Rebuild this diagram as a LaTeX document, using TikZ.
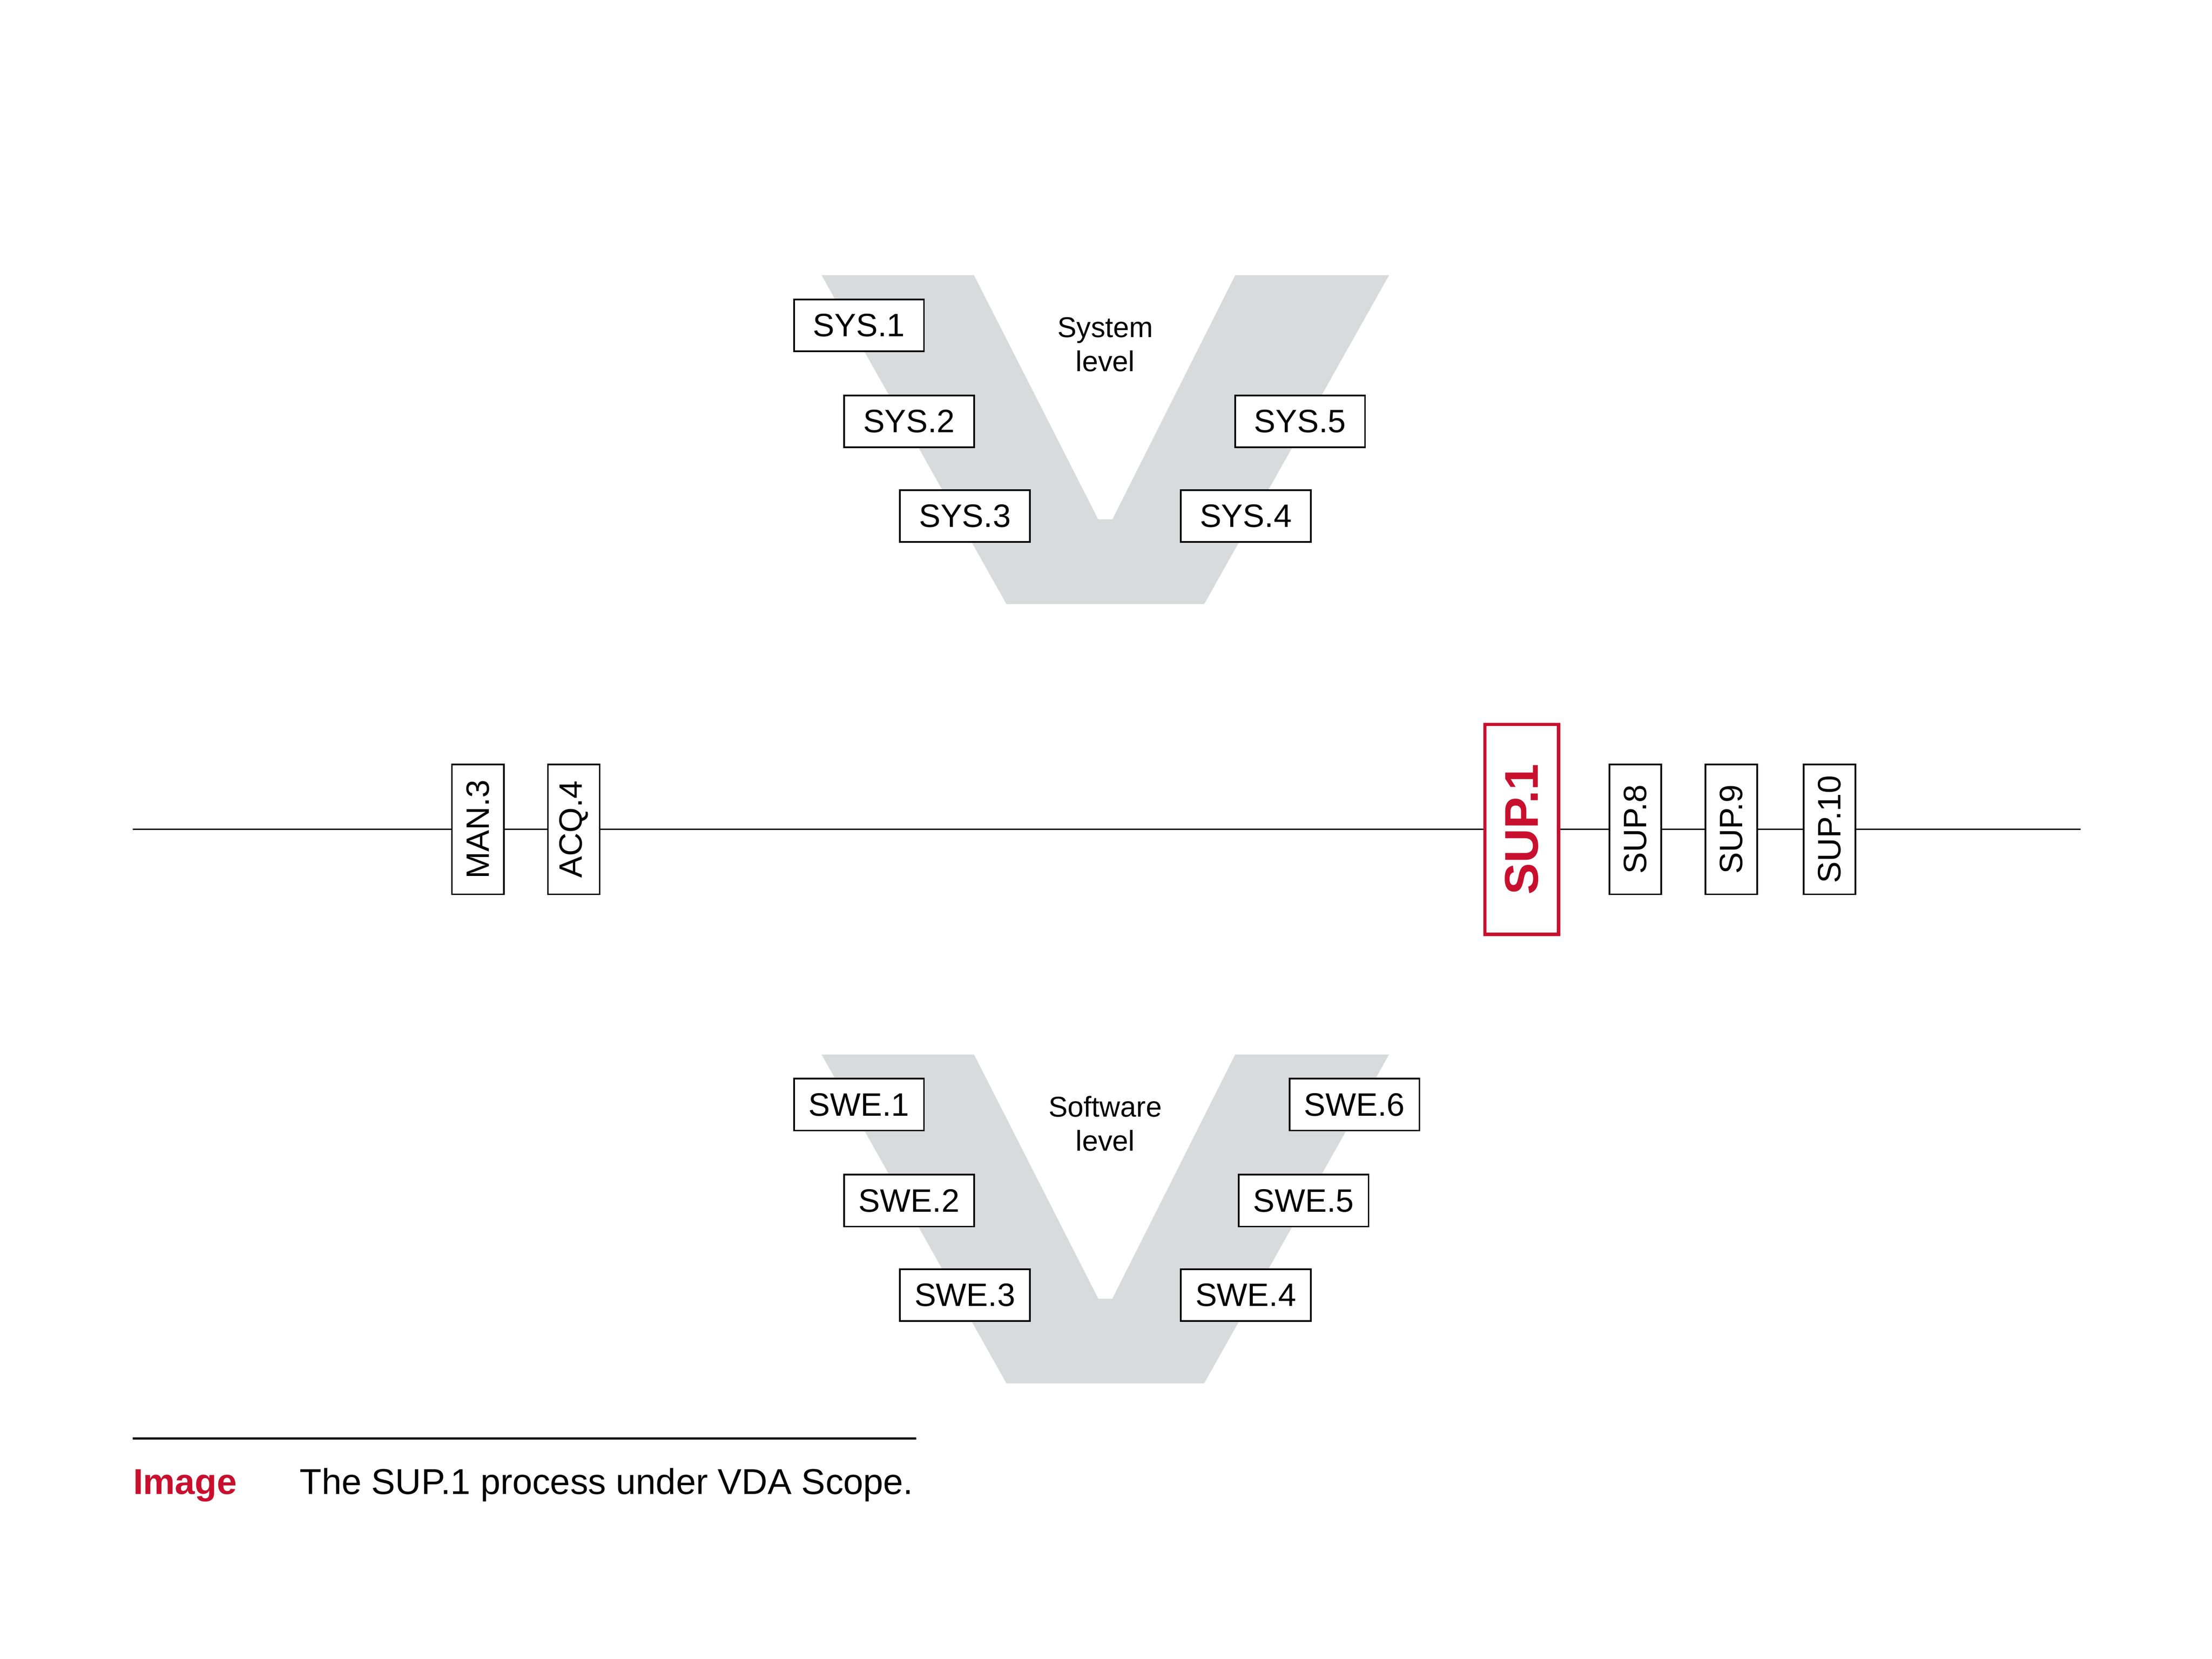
\documentclass[tikz,border=0pt]{standalone}
\usepackage{fontspec}
\setmainfont{Liberation Sans}
\usepackage{xcolor}
\usepackage{tikz}
\definecolor{vdared}{RGB}{200,16,46}
\definecolor{vgray}{RGB}{217,218,219}
\tikzset{
  procbox/.style={draw=black,line width=0.65pt,fill=white,inner sep=0pt,
    minimum width=1.832cm,minimum height=0.731cm,font=\fontsize{13}{15}\selectfont},
  vprocbox/.style={procbox,rotate=90},
  focusbox/.style={draw=vdared,line width=1.35pt,fill=white,text=vdared,inner sep=0pt,
    minimum width=2.961cm,minimum height=1.041cm,rotate=90,font=\fontsize{19}{22}\selectfont\bfseries},
  levellabel/.style={align=center,inner sep=0pt,font=\fontsize{11.5}{13.7}\selectfont},
  procline/.style={line width=0.65pt},
}

\begin{document}
\begin{tikzpicture}[x=0.019911cm,y=-0.019911cm]
        \useasboundingbox (0,0) rectangle (1567,1175.25);
        % system V
        \fill[vgray] (582,195) -- (690,195) -- (778,368) -- (788,368) -- (875,195)
            -- (984,195) -- (853,428) -- (713,428) -- cycle;
        \node[levellabel] (syslevel) at (783,244) {System\\level};
        \node[procbox] (sys1) at (608.5,230.5) {SYS.1};
        \node[procbox] (sys2) at (644,298.5) {SYS.2};
        \node[procbox] (sys3) at (683.5,365.5) {SYS.3};
        \node[procbox] (sys4) at (882.5,365.5) {SYS.4};
        \node[procbox] (sys5) at (921,298.5) {SYS.5};
        % process line
        \coordinate (lineL) at (94,587.5);
        \coordinate (lineR) at (1474,587.5);
        \node[vprocbox] (man3) at (338.5,587.5) {MAN.3};
        \node[vprocbox] (acq4) at (406.5,587.5) {ACQ.4};
        \node[focusbox] (sup1) at (1078,587.5) {SUP.1};
        \node[vprocbox] (sup8) at (1158.5,587.5) {SUP.8};
        \node[vprocbox] (sup9) at (1226.5,587.5) {SUP.9};
        \node[vprocbox] (sup10) at (1296,587.5) {SUP.10};
        \draw[procline] (lineL) -- (man3);
        \draw[procline] (man3) -- (acq4);
        \draw[procline] (acq4) -- (sup1);
        \draw[procline] (sup1) -- (sup8);
        \draw[procline] (sup8) -- (sup9);
        \draw[procline] (sup9) -- (sup10);
        \draw[procline] (sup10) -- (lineR);
        % software V
        \fill[vgray] (582,747) -- (690,747) -- (778,920) -- (788,920) -- (875,747)
            -- (984,747) -- (853,980) -- (713,980) -- cycle;
        \node[levellabel] (swlevel) at (783,796) {Software\\level};
        \node[procbox] (swe1) at (608.5,782.5) {SWE.1};
        \node[procbox] (swe2) at (644,850.5) {SWE.2};
        \node[procbox] (swe3) at (683.5,917.5) {SWE.3};
        \node[procbox] (swe4) at (882.5,917.5) {SWE.4};
        \node[procbox] (swe5) at (923.5,850.5) {SWE.5};
        \node[procbox] (swe6) at (959.5,782.5) {SWE.6};
        % caption
        \coordinate (ruleL) at (94,1019);
        \coordinate (ruleR) at (649,1019);
        \draw[line width=0.85pt] (ruleL) -- (ruleR);
        \node[anchor=base west,inner sep=0pt,text=vdared,font=\fontsize{14.4}{17}\selectfont\bfseries]
            (caplabel) at (94,1058.5) {Image};
        \node[anchor=base west,inner sep=0pt,font=\fontsize{14.4}{17}\selectfont]
            (captext) at (212,1058.5) {The SUP.1 process under VDA Scope.};
    \end{tikzpicture}
\end{document}
